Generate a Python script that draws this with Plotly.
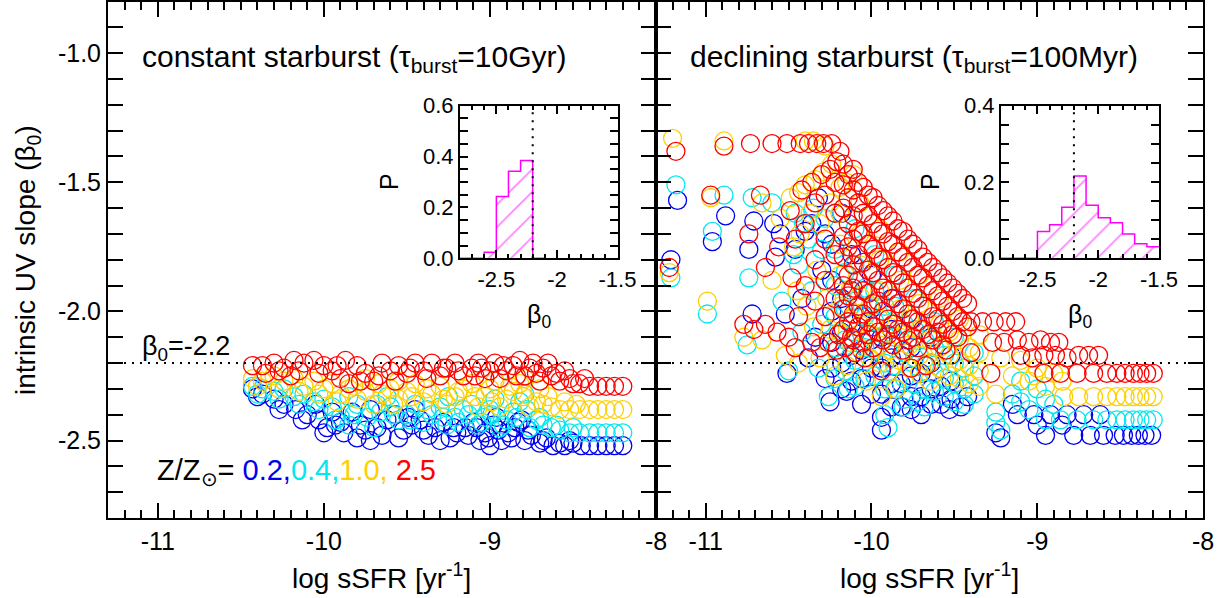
import plotly.graph_objects as go

W, H = 1231, 598

# ---------------- axis / tick data ----------------
X_RANGE = [-11.3, -8.0]
Y_RANGE = [-2.8, -0.8]
X_TICKS = [-11, -10, -9, -8]
X_TICK_TEXT = ["-11", "-10", "-9", "-8"]
Y_TICKS = [-2.5, -2.0, -1.5, -1.0]
Y_TICK_TEXT = ["-2.5", "-2.0", "-1.5", "-1.0"]
BETA0_REF = -2.2

INSET_X_RANGE = [-2.8, -1.5]
INSET_X_TICKS = [-2.5, -2.0, -1.5]
INSET_X_TICK_TEXT = ["-2.5", "-2", "-1.5"]
INSET_L_Y_RANGE = [0.0, 0.6]
INSET_L_Y_TICKS = [0.0, 0.2, 0.4, 0.6]
INSET_L_Y_TEXT = ["0.0", "0.2", "0.4", "0.6"]
INSET_R_Y_RANGE = [0.0, 0.4]
INSET_R_Y_TICKS = [0.0, 0.2, 0.4]
INSET_R_Y_TEXT = ["0.0", "0.2", "0.4"]

# ---------------- histogram data (bin left edges, probability) ----------------
HIST_BIN_WIDTH = 0.1
HIST_L_EDGES = [-2.8, -2.7, -2.6, -2.5, -2.4, -2.3, -2.2]
HIST_L_P = [0.0, 0.0, 0.024, 0.243, 0.342, 0.385, 0.0]
HIST_R_EDGES = [-2.8, -2.7, -2.6, -2.5, -2.4, -2.3, -2.2, -2.1, -2.0, -1.9, -1.8, -1.7, -1.6]
HIST_R_P = [0.0, 0.0, 0.0, 0.070, 0.088, 0.134, 0.216, 0.139, 0.106, 0.093, 0.064, 0.038, 0.030]

# ---------------- scatter data: (log sSFR, beta0) ----------------
L_BLUE = [(-10.43,-2.30),(-10.37,-2.32),(-10.30,-2.34),(-10.24,-2.36),(-10.17,-2.38),(-10.10,-2.40),
          (-10.03,-2.42),(-9.98,-2.45),(-9.93,-2.44),(-9.88,-2.47),(-9.83,-2.39),(-9.78,-2.44),(-9.72,-2.50),
          (-9.68,-2.45),(-9.62,-2.42),(-9.57,-2.40),(-9.52,-2.46),(-9.47,-2.44),(-9.42,-2.42),(-9.37,-2.48),
          (-9.33,-2.45),(-9.28,-2.43),(-9.24,-2.49),(-9.20,-2.47),(-9.15,-2.45),(-9.10,-2.43),(-9.06,-2.50),
          (-9.03,-2.47),(-9.00,-2.52),(-8.98,-2.44),(-8.96,-2.41),(-8.93,-2.50),(-8.89,-2.47),(-8.85,-2.45),
          (-8.81,-2.42),(-8.79,-2.50),(-8.75,-2.48),(-8.70,-2.51),(-8.66,-2.49),(-8.62,-2.52),(-8.55,-2.52),
          (-8.50,-2.51),(-8.45,-2.52),(-8.40,-2.52),(-8.35,-2.52),(-8.30,-2.52),(-8.25,-2.52),(-8.20,-2.52),
          (-10.05,-2.36),(-9.95,-2.39),(-9.72,-2.38),(-9.45,-2.38),
          (-10.40,-2.33),(-10.27,-2.38),(-10.13,-2.42),(-10.00,-2.47),(-9.90,-2.43),(-9.80,-2.49),
          (-9.75,-2.46),(-9.65,-2.48),(-9.55,-2.49),(-9.49,-2.41),(-9.40,-2.46),(-9.30,-2.50),(-9.22,-2.45),
          (-9.13,-2.48),(-9.08,-2.45),(-9.01,-2.49),(-8.95,-2.46),(-8.87,-2.49),(-8.83,-2.43),(-8.77,-2.46),
          (-8.68,-2.50),(-8.58,-2.51),(-8.52,-2.50)]
L_CYAN = [(-10.43,-2.29),(-10.37,-2.30),(-10.30,-2.31),(-10.24,-2.30),(-10.18,-2.33),(-10.12,-2.32),
          (-10.06,-2.35),(-10.00,-2.34),(-9.95,-2.37),(-9.90,-2.41),(-9.85,-2.44),(-9.80,-2.36),(-9.74,-2.41),
          (-9.70,-2.45),(-9.66,-2.39),(-9.60,-2.37),(-9.55,-2.42),(-9.50,-2.40),(-9.45,-2.36),(-9.40,-2.43),
          (-9.35,-2.40),(-9.30,-2.37),(-9.26,-2.44),(-9.21,-2.41),(-9.16,-2.38),(-9.11,-2.36),(-9.07,-2.44),
          (-9.03,-2.41),(-9.00,-2.38),(-8.97,-2.34),(-8.94,-2.45),(-8.90,-2.42),(-8.86,-2.39),(-8.82,-2.35),
          (-8.79,-2.32),(-8.76,-2.45),(-8.72,-2.42),(-8.68,-2.44),(-8.63,-2.45),(-8.58,-2.46),(-8.52,-2.47),
          (-8.46,-2.47),(-8.40,-2.47),(-8.35,-2.47),(-8.30,-2.47),(-8.25,-2.47),(-8.20,-2.47),
          (-9.85,-2.33),(-9.62,-2.33),(-9.25,-2.33),
          (-10.40,-2.32),(-10.27,-2.34),(-10.15,-2.36),(-10.03,-2.38),(-9.93,-2.42),(-9.82,-2.40),
          (-9.68,-2.36),(-9.58,-2.40),(-9.48,-2.42),(-9.38,-2.38),(-9.28,-2.41),(-9.19,-2.43),(-9.13,-2.40),
          (-9.05,-2.43),(-8.99,-2.40),(-8.92,-2.44),(-8.84,-2.41),(-8.78,-2.38),(-8.70,-2.41),(-8.60,-2.44),
          (-8.50,-2.45)]
L_YELLOW = [(-10.43,-2.26),(-10.37,-2.27),(-10.30,-2.25),(-10.24,-2.27),(-10.18,-2.26),(-10.12,-2.29),
            (-10.06,-2.27),(-10.00,-2.30),(-9.95,-2.28),(-9.90,-2.32),(-9.85,-2.30),(-9.80,-2.34),(-9.75,-2.31),
            (-9.70,-2.36),(-9.65,-2.32),(-9.60,-2.30),(-9.55,-2.34),(-9.50,-2.31),(-9.45,-2.28),(-9.40,-2.35),
            (-9.35,-2.32),(-9.30,-2.29),(-9.26,-2.36),(-9.21,-2.33),(-9.16,-2.30),(-9.11,-2.28),(-9.07,-2.37),
            (-9.03,-2.33),(-9.00,-2.30),(-8.97,-2.27),(-8.94,-2.37),(-8.90,-2.34),(-8.86,-2.31),(-8.82,-2.28),
            (-8.79,-2.26),(-8.76,-2.37),(-8.72,-2.35),(-8.68,-2.36),(-8.63,-2.37),(-8.58,-2.38),(-8.52,-2.38),
            (-8.46,-2.38),(-8.40,-2.38),(-8.35,-2.38),(-8.30,-2.38),(-8.25,-2.38),(-8.20,-2.38),
            (-9.75,-2.26),(-9.55,-2.27),
            (-10.40,-2.29),(-10.27,-2.30),(-10.15,-2.31),(-10.03,-2.32),(-9.92,-2.35),(-9.82,-2.29),
            (-9.67,-2.28),(-9.58,-2.36),(-9.47,-2.33),(-9.38,-2.30),(-9.28,-2.34),(-9.19,-2.31),(-9.09,-2.33),
            (-8.99,-2.35),(-8.88,-2.29),(-8.80,-2.33),(-8.70,-2.30),(-8.65,-2.33),(-8.55,-2.35),(-8.48,-2.36)]
L_RED = [(-10.43,-2.21),(-10.37,-2.21),(-10.30,-2.20),(-10.24,-2.22),(-10.18,-2.19),(-10.12,-2.20),
         (-10.06,-2.19),(-10.00,-2.21),(-9.95,-2.23),(-9.90,-2.26),(-9.85,-2.28),(-9.80,-2.21),(-9.75,-2.24),
         (-9.70,-2.27),(-9.65,-2.20),(-9.60,-2.23),(-9.55,-2.21),(-9.50,-2.24),(-9.45,-2.20),(-9.40,-2.23),
         (-9.35,-2.20),(-9.30,-2.25),(-9.26,-2.22),(-9.21,-2.20),(-9.16,-2.25),(-9.11,-2.22),(-9.07,-2.20),
         (-9.03,-2.26),(-9.00,-2.23),(-8.97,-2.20),(-8.94,-2.26),(-8.90,-2.23),(-8.86,-2.21),(-8.82,-2.19),
         (-8.79,-2.25),(-8.76,-2.22),(-8.72,-2.24),(-8.68,-2.22),(-8.63,-2.25),(-8.58,-2.27),(-8.52,-2.26),
         (-8.46,-2.28),(-8.40,-2.29),(-8.35,-2.29),(-8.30,-2.29),(-8.25,-2.29),(-8.20,-2.29),
         (-10.35,-2.24),(-10.20,-2.25),(-9.87,-2.19),(-8.55,-2.23),(-8.65,-2.20),
         (-10.27,-2.23),(-10.15,-2.23),(-10.03,-2.24),(-9.92,-2.21),(-9.78,-2.27),(-9.67,-2.25),
         (-9.57,-2.27),(-9.48,-2.22),(-9.38,-2.26),(-9.28,-2.22),(-9.19,-2.23),(-9.09,-2.25),(-9.05,-2.22),
         (-8.92,-2.21),(-8.84,-2.25),(-8.74,-2.20),(-8.70,-2.27),(-8.60,-2.24),(-8.50,-2.28),(-8.43,-2.26)]

R_BLUE = [(-11.17,-1.57),(-11.21,-1.80),(-10.88,-1.63),(-10.96,-1.73),(-10.71,-1.65),(-10.74,-1.76),
          (-10.59,-1.66),(-10.55,-1.70),(-10.40,-1.69),(-10.58,-1.79),(-10.72,-2.01),(-10.52,-2.01),
          (-10.51,-2.24),(-10.25,-2.35),(-10.15,-2.31),(-9.94,-2.46),(-9.76,-2.38),(-9.70,-2.40),
          (-9.53,-2.38),(-9.46,-2.37),(-9.42,-2.33),(-10.32,-1.56),(-10.28,-1.70),(-10.18,-1.62),
          (-10.46,-1.76),(-10.36,-1.66),(-10.30,-1.84),(-10.42,-1.95),(-10.34,-2.10),(-10.28,-2.26),
          (-10.38,-2.18),
          (-10.24,-1.74),(-10.24,-1.88),(-10.24,-2.00),(-10.24,-2.12),(-10.24,-2.22),
          (-10.18,-1.95),(-10.18,-2.08),(-10.18,-2.20),(-10.18,-2.30),
          (-10.12,-1.78),(-10.12,-1.92),(-10.12,-2.05),(-10.12,-2.17),(-10.12,-2.27),
          (-10.06,-2.02),(-10.06,-2.15),(-10.06,-2.26),(-10.06,-2.36),
          (-10.00,-1.86),(-10.00,-1.99),(-10.00,-2.11),(-10.00,-2.22),(-10.00,-2.32),
          (-9.94,-2.10),(-9.94,-2.22),(-9.94,-2.32),(-9.94,-2.41),
          (-9.88,-1.95),(-9.88,-2.07),(-9.88,-2.18),(-9.88,-2.28),(-9.88,-2.37),
          (-9.82,-2.17),(-9.82,-2.28),(-9.82,-2.37),
          (-9.76,-2.03),(-9.76,-2.14),(-9.76,-2.25),(-9.76,-2.33),
          (-9.70,-2.24),(-9.70,-2.33),
          (-9.64,-2.10),(-9.64,-2.20),(-9.64,-2.30),(-9.64,-2.36),
          (-9.58,-2.29),(-9.58,-2.36),
          (-9.52,-2.17),(-9.52,-2.27),(-9.52,-2.34),
          (-9.15,-2.36),(-9.00,-2.44),(-8.85,-2.44),
          (-9.25,-2.47),(-9.22,-2.49),(-9.12,-2.40),(-9.02,-2.40),(-8.92,-2.40),(-8.82,-2.40),(-8.72,-2.40),
          (-8.62,-2.40),(-8.95,-2.48),(-8.78,-2.48),(-8.68,-2.48),(-8.60,-2.48),(-8.53,-2.48),(-8.48,-2.48),
          (-8.43,-2.48),(-8.39,-2.48),(-8.35,-2.48),(-8.31,-2.48)]
R_CYAN = [(-11.18,-1.51),(-11.21,-1.87),(-10.99,-2.01),(-10.89,-1.55),(-10.96,-1.69),(-10.74,-1.87),
          (-10.72,-1.56),(-10.47,-1.78),(-10.41,-1.66),(-10.75,-2.13),(-10.54,-1.96),(-10.50,-2.23),
          (-10.26,-2.33),(-10.14,-2.30),(-9.92,-2.40),(-9.81,-2.37),(-9.72,-2.35),(-9.56,-2.33),
          (-9.50,-2.35),(-9.90,-2.45),(-10.60,-1.58),(-10.35,-1.60),(-10.28,-1.64),(-10.38,-1.72),
          (-10.30,-1.76),(-10.44,-1.82),(-10.36,-1.92),(-10.30,-2.05),(-10.42,-2.08),(-10.32,-2.22),
          (-10.46,-1.62),
          (-10.22,-1.62),(-10.22,-1.76),(-10.22,-1.90),(-10.22,-2.02),(-10.22,-2.14),(-10.22,-2.26),
          (-10.16,-1.85),(-10.16,-1.99),(-10.16,-2.11),(-10.16,-2.23),
          (-10.10,-1.68),(-10.10,-1.82),(-10.10,-1.96),(-10.10,-2.08),(-10.10,-2.19),(-10.10,-2.29),
          (-10.04,-1.91),(-10.04,-2.02),(-10.04,-2.14),(-10.04,-2.26),
          (-9.98,-1.78),(-9.98,-1.92),(-9.98,-2.04),(-9.98,-2.15),(-9.98,-2.25),
          (-9.92,-1.98),(-9.92,-2.09),(-9.92,-2.20),(-9.92,-2.30),
          (-9.86,-1.86),(-9.86,-1.98),(-9.86,-2.10),(-9.86,-2.21),(-9.86,-2.30),
          (-9.80,-2.05),(-9.80,-2.16),(-9.80,-2.26),(-9.80,-2.34),
          (-9.74,-1.95),(-9.74,-2.07),(-9.74,-2.18),(-9.74,-2.28),
          (-9.68,-2.11),(-9.68,-2.21),(-9.68,-2.30),(-9.68,-2.37),
          (-9.62,-2.04),(-9.62,-2.14),(-9.62,-2.24),(-9.62,-2.31),
          (-9.56,-2.17),(-9.56,-2.26),
          (-9.50,-2.10),(-9.50,-2.20),(-9.50,-2.28),
          (-9.44,-2.22),(-9.44,-2.30),(-9.44,-2.36),
          (-9.38,-2.16),(-9.38,-2.25),(-9.38,-2.32),
          (-9.15,-2.32),(-8.95,-2.34),(-9.05,-2.38),
          (-9.25,-2.39),(-9.25,-2.43),(-9.22,-2.46),(-9.10,-2.27),(-9.00,-2.30),(-8.95,-2.42),(-8.86,-2.42),
          (-8.76,-2.42),(-8.66,-2.42),(-8.58,-2.42),(-8.52,-2.42),(-8.47,-2.42),(-8.42,-2.42),(-8.38,-2.42),
          (-8.34,-2.42),(-8.30,-2.42),(-9.10,-2.35),(-8.90,-2.36)]
R_YELLOW = [(-11.20,-1.33),(-10.89,-1.34),(-10.40,-1.34),(-10.35,-1.34),(-10.28,-1.36),
            (-10.24,-1.43),(-10.29,-1.46),(-10.34,-1.49),(-10.40,-1.51),(-10.44,-1.54),(-10.49,-1.56),
            (-10.11,-1.47),(-10.15,-1.50),(-10.97,-1.56),(-11.22,-1.85),(-10.99,-1.96),(-10.66,-1.58),
            (-10.55,-1.64),(-10.60,-1.88),(-10.47,-1.75),(-10.77,-2.10),(-10.66,-2.11),(-10.52,-2.17),
            (-10.44,-2.20),(-10.31,-2.18),(-10.22,-2.25),(-10.03,-2.27),(-9.94,-2.33),(-9.85,-2.30),
            (-10.15,-2.21),
            (-10.25,-1.58),(-10.31,-1.66),(-10.37,-1.62),(-10.43,-1.70),(-10.33,-1.84),(-10.27,-1.95),
            (-10.39,-1.98),(-10.45,-1.92),(-10.25,-2.07),(-10.35,-2.06),
            (-10.19,-1.52),(-10.19,-1.62),(-10.19,-1.74),(-10.19,-1.86),(-10.19,-1.98),(-10.19,-2.08),
            (-10.13,-1.92),(-10.13,-2.03),(-10.13,-2.12),
            (-10.07,-1.58),(-10.07,-1.70),(-10.07,-1.82),(-10.07,-1.94),(-10.07,-2.05),(-10.07,-2.14),
            (-10.01,-1.98),(-10.01,-2.09),(-10.01,-2.18),
            (-9.95,-1.68),(-9.95,-1.80),(-9.95,-1.92),(-9.95,-2.03),(-9.95,-2.13),(-9.95,-2.20),
            (-9.89,-2.06),(-9.89,-2.15),(-9.89,-2.23),
            (-9.83,-1.77),(-9.83,-1.88),(-9.83,-1.99),(-9.83,-2.10),(-9.83,-2.19),
            (-9.77,-2.03),(-9.77,-2.13),(-9.77,-2.22),
            (-9.71,-1.86),(-9.71,-1.97),(-9.71,-2.07),(-9.71,-2.17),(-9.71,-2.24),
            (-9.65,-2.11),(-9.65,-2.20),(-9.65,-2.27),
            (-9.59,-1.95),(-9.59,-2.05),(-9.59,-2.14),(-9.59,-2.22),
            (-9.53,-2.08),(-9.53,-2.17),(-9.53,-2.25),
            (-9.47,-2.03),(-9.47,-2.11),(-9.47,-2.19),(-9.47,-2.26),
            (-9.41,-2.14),(-9.41,-2.21),(-9.41,-2.28),
            (-9.35,-2.09),(-9.35,-2.16),(-9.35,-2.23),(-9.35,-2.29),
            (-9.15,-2.25),(-9.02,-2.25),(-8.85,-2.27),
            (-9.22,-2.18),(-9.10,-2.19),(-9.00,-2.22),(-9.25,-2.32),(-8.84,-2.33),(-8.75,-2.33),(-8.66,-2.33),
            (-8.58,-2.33),(-8.52,-2.33),(-8.47,-2.33),(-8.42,-2.33),(-8.38,-2.33),(-8.34,-2.33),(-8.30,-2.33),
            (-9.05,-2.27),(-8.95,-2.29),(-8.90,-2.24)]
R_RED = [(-11.18,-1.38),(-10.89,-1.36),(-10.73,-1.35),(-10.60,-1.35),(-10.51,-1.35),(-10.43,-1.35),
         (-10.38,-1.35),(-10.33,-1.35),(-10.29,-1.35),(-10.24,-1.35),
         (-10.19,-1.38),(-10.21,-1.42),(-10.25,-1.45),(-10.30,-1.47),(-10.36,-1.50),(-10.42,-1.53),
         (-11.22,-1.83),(-10.97,-1.55),(-10.67,-1.55),(-10.74,-1.70),(-10.49,-1.61),(-10.64,-1.83),
         (-10.48,-1.87),(-10.56,-1.75),
         (-10.77,-2.05),(-10.71,-2.07),(-10.64,-2.05),(-10.57,-2.08),(-10.50,-2.10),(-10.46,-2.14),
         (-10.36,-2.12),(-10.31,-2.14),(-10.26,-2.12),(-10.21,-2.15),(-10.16,-2.14),(-10.10,-2.16),
         (-10.04,-2.18),(-10.20,-2.09),(-10.12,-2.10),
         (-10.22,-1.50),(-10.22,-1.62),(-10.22,-1.78),(-10.22,-1.95),(-10.28,-1.55),(-10.28,-1.72),
         (-10.28,-1.88),(-10.28,-2.02),(-10.34,-1.58),(-10.34,-1.80),(-10.34,-1.96),(-10.40,-1.66),
         (-10.40,-1.90),(-10.46,-1.72),(-10.44,-2.02),
         (-10.17,-1.43),(-10.17,-1.51),(-10.17,-1.60),(-10.17,-1.71),(-10.17,-1.79),(-10.17,-1.90),(-10.17,-1.99),(-10.17,-2.07),
         (-10.14,-1.47),(-10.14,-1.56),(-10.14,-1.66),(-10.14,-1.75),(-10.14,-1.86),(-10.14,-1.94),(-10.14,-2.04),
         (-10.11,-1.45),(-10.11,-1.53),(-10.11,-1.63),(-10.11,-1.72),(-10.11,-1.82),(-10.11,-1.91),(-10.11,-2.01),(-10.11,-2.11),
         (-10.08,-1.50),(-10.08,-1.58),(-10.08,-1.69),(-10.08,-1.78),(-10.08,-1.88),(-10.08,-1.98),(-10.08,-2.06),
         (-10.05,-1.52),(-10.05,-1.62),(-10.05,-1.70),(-10.05,-1.81),(-10.05,-1.92),(-10.05,-2.01),(-10.05,-2.12),
         (-10.02,-1.55),(-10.02,-1.63),(-10.02,-1.74),(-10.02,-1.84),(-10.02,-1.93),(-10.02,-2.04),(-10.02,-2.09),
         (-9.99,-1.56),(-9.99,-1.66),(-9.99,-1.76),(-9.99,-1.85),(-9.99,-1.97),(-9.99,-2.06),(-9.99,-2.14),
         (-9.96,-1.59),(-9.96,-1.69),(-9.96,-1.79),(-9.96,-1.88),(-9.96,-1.96),(-9.96,-2.08),
         (-9.93,-1.61),(-9.93,-1.70),(-9.93,-1.80),(-9.93,-1.91),(-9.93,-2.00),(-9.93,-2.11),
         (-9.90,-1.63),(-9.90,-1.73),(-9.90,-1.83),(-9.90,-1.92),(-9.90,-2.03),(-9.90,-2.09),
         (-9.87,-1.65),(-9.87,-1.74),(-9.87,-1.85),(-9.87,-1.95),(-9.87,-2.05),(-9.87,-2.13),
         (-9.84,-1.68),(-9.84,-1.77),(-9.84,-1.86),(-9.84,-1.97),(-9.84,-2.07),
         (-9.81,-1.69),(-9.81,-1.79),(-9.81,-1.89),(-9.81,-1.99),(-9.81,-2.08),(-9.81,-2.15),
         (-9.78,-1.72),(-9.78,-1.81),(-9.78,-1.91),(-9.78,-2.01),(-9.78,-2.11),
         (-9.75,-1.74),(-9.75,-1.83),(-9.75,-1.93),(-9.75,-2.03),(-9.75,-2.10),
         (-9.72,-1.76),(-9.72,-1.86),(-9.72,-1.95),(-9.72,-2.04),(-9.72,-2.14),
         (-9.69,-1.79),(-9.69,-1.87),(-9.69,-1.98),(-9.69,-2.07),
         (-9.66,-1.81),(-9.66,-1.90),(-9.66,-1.99),(-9.66,-2.09),
         (-9.63,-1.83),(-9.63,-1.92),(-9.63,-2.02),(-9.63,-2.11),
         (-9.60,-1.85),(-9.60,-1.94),(-9.60,-2.03),(-9.60,-2.08),
         (-9.57,-1.87),(-9.57,-1.96),(-9.57,-2.05),(-9.57,-2.13),
         (-9.54,-1.89),(-9.54,-1.98),(-9.54,-2.07),
         (-9.51,-1.91),(-9.51,-2.00),(-9.51,-2.09),
         (-9.48,-1.93),(-9.48,-2.02),(-9.48,-2.10),
         (-9.45,-1.95),(-9.45,-2.04),
         (-9.42,-1.97),(-9.42,-2.06),
         (-9.40,-2.04),(-9.33,-2.04),(-9.26,-2.04),(-9.19,-2.04),(-9.13,-2.04),
         (-9.27,-2.12),(-9.20,-2.12),(-9.12,-2.11),(-9.05,-2.12),(-8.98,-2.11),(-8.92,-2.12),(-8.87,-2.12),
         (-9.10,-2.17),(-9.03,-2.18),(-8.96,-2.17),(-8.89,-2.17),(-8.82,-2.18),(-8.75,-2.17),(-8.69,-2.17),
         (-8.63,-2.17),
         (-8.96,-2.24),(-8.86,-2.24),(-8.76,-2.24),(-8.66,-2.24),(-8.58,-2.24),(-8.52,-2.24),(-8.47,-2.24),
         (-8.42,-2.24),(-8.38,-2.24),(-8.34,-2.24),(-8.30,-2.24),
         (-9.94,-2.23),(-9.76,-2.22),(-9.67,-2.21),(-9.28,-2.24),(-9.55,-2.15),(-9.40,-2.16)]

SERIES_COLORS = {"blue": "#0000F0", "cyan": "#00E8F0", "yellow": "#FFD000", "red": "#FF0000"}
FONT = "Liberation Sans, Arial, Helvetica, sans-serif"


def px(x):
    return x / W


def py(y):
    return 1 - y / H


fig = go.Figure()

panels = [
    ("x", "y", [("blue", L_BLUE), ("cyan", L_CYAN), ("yellow", L_YELLOW), ("red", L_RED)]),
    ("x2", "y2", [("blue", R_BLUE), ("cyan", R_CYAN), ("yellow", R_YELLOW), ("red", R_RED)]),
]
for xa, ya, series in panels:
    for cname, pts in series:
        fig.add_trace(go.Scatter(
            x=[p[0] for p in pts], y=[p[1] for p in pts], mode="markers",
            xaxis=xa, yaxis=ya, hoverinfo="skip",
            marker=dict(symbol="circle-open", size=18, color=SERIES_COLORS[cname],
                        line=dict(width=1.3, color=SERIES_COLORS[cname])),
        ))

# histograms
for xa, ya, edges, probs in [("x3", "y3", HIST_L_EDGES, HIST_L_P), ("x4", "y4", HIST_R_EDGES, HIST_R_P)]:
    fig.add_trace(go.Bar(
        x=edges, y=probs, width=HIST_BIN_WIDTH, offset=0, xaxis=xa, yaxis=ya,
        marker=dict(color="rgba(0,0,0,0)", line=dict(width=0),
                    pattern=dict(shape="/", fgcolor="#FF00FF", bgcolor="rgba(0,0,0,0)",
                                 size=16, solidity=0.1)),
        hoverinfo="skip",
    ))
    fig.add_trace(go.Scatter(
        x=edges + [edges[-1] + HIST_BIN_WIDTH], y=probs + [probs[-1]],
        mode="lines", line=dict(shape="hv", color="#FF00FF", width=1.5),
        xaxis=xa, yaxis=ya, hoverinfo="skip", cliponaxis=False,
    ))

# empty traces so the top-side tick axes are registered
for xa, ya in [("x5", "y"), ("x6", "y2"), ("x7", "y3"), ("x8", "y4")]:
    fig.add_trace(go.Scatter(x=[], y=[], xaxis=xa, yaxis=ya, mode="markers", hoverinfo="skip"))


def main_axis(**kw):
    d = dict(showline=True, linecolor="black", linewidth=2, mirror="allticks",
             ticks="inside", ticklen=15, tickwidth=2, tickcolor="black",
             showgrid=False, zeroline=False, automargin=False,
             tickfont=dict(size=25, family=FONT, color="black"))
    d.update(kw)
    return d


def inset_axis(**kw):
    d = dict(showline=True, linecolor="black", linewidth=2, mirror="allticks",
             ticks="inside", ticklen=8, tickwidth=1.5, tickcolor="black",
             showgrid=False, zeroline=False, automargin=False,
             tickfont=dict(size=22, family=FONT, color="black"))
    d.update(kw)
    return d


XMIN = dict(ticks="inside", ticklen=8, tickwidth=2, tickcolor="black", tickmode="linear", tick0=-11, dtick=0.1)
YMIN = dict(ticks="inside", ticklen=8, tickwidth=2, tickcolor="black", tickmode="linear", tick0=-2.5, dtick=0.1)
IXMIN = dict(ticks="inside", ticklen=4.5, tickwidth=1.5, tickcolor="black", tickmode="linear", tick0=-2.5, dtick=0.1)
IYMIN = dict(ticks="inside", ticklen=4.5, tickwidth=1.5, tickcolor="black", tickmode="linear", tick0=0, dtick=0.05)


def top_axis(over, anchor, rng, tickvals, ticklen, tickwidth, minor):
    return dict(overlaying=over, anchor=anchor, side="top", range=rng, tickmode="array",
                tickvals=tickvals, showticklabels=False, ticks="inside", ticklen=ticklen,
                tickwidth=tickwidth, tickcolor="black", showline=False, showgrid=False,
                zeroline=False, automargin=False, minor=minor, visible=True)


y_dom = [py(518), py(1.5)]
inset_y_dom = [py(258.3), py(105.7)]

fig.update_layout(
    width=W, height=H, margin=dict(l=0, r=0, t=0, b=0),
    paper_bgcolor="white", plot_bgcolor="rgba(0,0,0,0)", showlegend=False,
    font=dict(family=FONT, color="black"),
    xaxis=main_axis(domain=[px(108), px(656)], range=X_RANGE, anchor="y",
                    tickmode="array", tickvals=X_TICKS, ticktext=X_TICK_TEXT, minor=XMIN),
    yaxis=main_axis(domain=y_dom, range=Y_RANGE, anchor="x",
                    tickmode="array", tickvals=Y_TICKS, ticktext=Y_TICK_TEXT, minor=YMIN),
    xaxis2=main_axis(domain=[px(656), px(1203)], range=X_RANGE, anchor="y2",
                     tickmode="array", tickvals=X_TICKS, ticktext=X_TICK_TEXT, minor=XMIN),
    yaxis2=main_axis(domain=y_dom, range=Y_RANGE, anchor="x2", showticklabels=False,
                     tickmode="array", tickvals=Y_TICKS, ticktext=Y_TICK_TEXT, minor=YMIN),
    xaxis3=inset_axis(domain=[px(460), px(617.5)], range=INSET_X_RANGE, anchor="y3",
                      tickmode="array", tickvals=INSET_X_TICKS, ticktext=INSET_X_TICK_TEXT, minor=IXMIN),
    yaxis3=inset_axis(domain=inset_y_dom, range=INSET_L_Y_RANGE, anchor="x3",
                      tickmode="array", tickvals=INSET_L_Y_TICKS, ticktext=INSET_L_Y_TEXT, minor=IYMIN),
    xaxis4=inset_axis(domain=[px(1001), px(1159)], range=INSET_X_RANGE, anchor="y4",
                      tickmode="array", tickvals=INSET_X_TICKS, ticktext=INSET_X_TICK_TEXT, minor=IXMIN),
    yaxis4=inset_axis(domain=inset_y_dom, range=INSET_R_Y_RANGE, anchor="x4",
                      tickmode="array", tickvals=INSET_R_Y_TICKS, ticktext=INSET_R_Y_TEXT, minor=IYMIN),
    xaxis5=top_axis("x", "y", X_RANGE, X_TICKS, 15, 2, XMIN),
    xaxis6=top_axis("x2", "y2", X_RANGE, X_TICKS, 15, 2, XMIN),
    xaxis7=top_axis("x3", "y3", INSET_X_RANGE, INSET_X_TICKS, 8, 1.5, IXMIN),
    xaxis8=top_axis("x4", "y4", INSET_X_RANGE, INSET_X_TICKS, 8, 1.5, IXMIN),
    bargap=0,
)

# reference lines
DOT = "2px,6px"
for xr, yr in [("x", "y"), ("x2", "y2")]:
    fig.add_shape(type="line", xref=xr + " domain", yref=yr, x0=0, x1=1, y0=BETA0_REF, y1=BETA0_REF,
                  line=dict(color="black", width=2, dash=DOT), layer="above")
for xr, yr in [("x3", "y3"), ("x4", "y4")]:
    fig.add_shape(type="line", xref=xr, yref=yr + " domain", x0=BETA0_REF, x1=BETA0_REF, y0=0, y1=1,
                  line=dict(color="black", width=2, dash=DOT), layer="above")


def ann(text, x, y, size, xanchor="left", yanchor="middle", angle=0):
    fig.add_annotation(text=text, x=px(x), y=py(y), xref="paper", yref="paper",
                       xanchor=xanchor, yanchor=yanchor, showarrow=False, textangle=angle,
                       font=dict(size=size, family=FONT, color="black"))


ann("constant starburst (τ<sub>burst</sub>=10Gyr)", 140, 58, 30)
ann("declining starburst (τ<sub>burst</sub>=100Myr)", 688, 58, 30)
ann("β<sub>0</sub>=-2.2", 140, 348, 27)
ann("Z/Z<sub>⊙</sub>= <span style='color:#0000F0'>0.2,</span><span style='color:#00E8F0'>0.4,</span>"
    "<span style='color:#FFD000'>1.0,</span> <span style='color:#FF0000'>2.5</span>", 155, 472, 29)
ann("log sSFR [yr<sup>-1</sup>]", 382, 576, 28, xanchor="center")
ann("log sSFR [yr<sup>-1</sup>]", 929, 576, 28, xanchor="center")
ann("intrinsic UV slope (β<sub>0</sub>)", 28, 260, 28, xanchor="center", angle=-90)
ann("P", 389, 182, 25, xanchor="center", angle=-90)
ann("P", 930, 182, 25, xanchor="center", angle=-90)
ann("β<sub>0</sub>", 539, 316, 25, xanchor="center")
ann("β<sub>0</sub>", 1080, 316, 25, xanchor="center")

fig.write_html("out.html")
